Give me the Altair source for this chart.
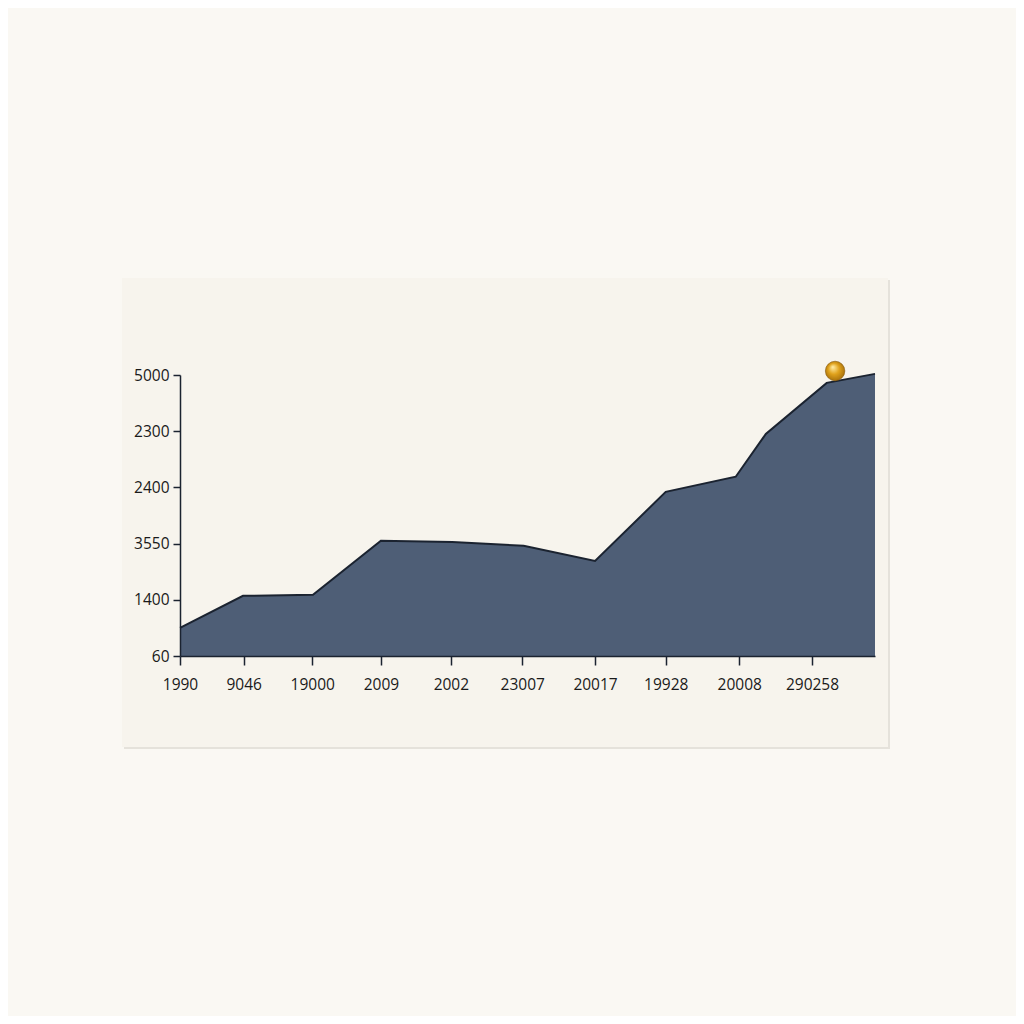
import json
import altair as alt
import pandas as pd

# ---- data ----
x_pos = [0, 90, 190, 287, 389, 491, 593, 694, 794, 837, 924, 993]
y_val = [300, 642, 654, 1230, 1218, 1176, 1014, 1752, 1914, 2370, 2916, 3012]

x_ticks = [0, 91, 189, 287, 387, 489, 593, 694, 799, 903]
x_labels = ["1990", "9046", "19000", "2009", "2002", "23007", "20017", "19928", "20008", "290258"]

y_ticks = [0, 600, 1200, 1800, 2400, 3000]
y_labels = ["60", "1400", "3550", "2400", "2300", "5000"]

ball_x = [936]
ball_y = [3043]

PAGE = "#FAF8F3"
CARD = "#F7F4ED"
AREA = "#4E5E76"
INK = "#1B2330"

area_df = pd.DataFrame({"x": x_pos, "y": y_val})
ball_df = pd.DataFrame({"x": ball_x, "y": ball_y})
one = pd.DataFrame({"k": [0]})

x_scale = alt.Scale(domain=[0, 993], nice=False, zero=False)
y_scale = alt.Scale(domain=[0, 3000], nice=False)

x_label_expr = f"{json.dumps(x_labels)}[indexof({json.dumps(x_ticks)}, datum.value)]"
y_label_expr = f"{json.dumps(y_labels)}[indexof({json.dumps(y_ticks)}, datum.value)]"

shadow = alt.Chart(one).mark_rect(color="#DCD8D0", opacity=0.7).encode(
    x=alt.value(-56), x2=alt.value(710), y=alt.value(-95), y2=alt.value(374)
)
card = alt.Chart(one).mark_rect(color=CARD).encode(
    x=alt.value(-58), x2=alt.value(708), y=alt.value(-97), y2=alt.value(372)
)

x_enc = alt.X("x:Q", scale=x_scale, title=None,
              axis=alt.Axis(values=x_ticks, labelExpr=x_label_expr, tickSize=9,
                            labelPadding=12, labelFlush=False, grid=False, zindex=2))
y_enc = alt.Y("y:Q", scale=y_scale, title=None,
              axis=alt.Axis(values=y_ticks, labelExpr=y_label_expr, tickSize=7,
                            labelPadding=4, labelFlush=False, grid=False, zindex=2))

area = alt.Chart(area_df).mark_area(fill=AREA, opacity=1, fillOpacity=1).encode(
    x=x_enc, y=y_enc
)
line = alt.Chart(area_df).mark_line(color=INK, strokeWidth=2).encode(
    x=alt.X("x:Q", scale=x_scale), y=alt.Y("y:Q", scale=y_scale)
)

ball = alt.Chart(ball_df).mark_point(
    shape="circle", size=380, filled=True, opacity=1,
    fill=alt.Gradient(
        gradient="radial",
        stops=[alt.GradientStop(color="#FFE9A0", offset=0),
               alt.GradientStop(color="#E0A21C", offset=0.45),
               alt.GradientStop(color="#9A6508", offset=1)],
        x1=0.38, y1=0.3, r1=0.02, x2=0.5, y2=0.5, r2=0.6,
    ),
    stroke="#86580A", strokeWidth=0.6,
).encode(x=alt.X("x:Q", scale=x_scale), y=alt.Y("y:Q", scale=y_scale))

chart = alt.layer(shadow, card, area, line, ball).properties(
    width=695, height=281,
    background=PAGE,
    padding={"left": 114, "top": 270, "right": 126, "bottom": 267},
).configure_view(stroke=None).configure_axis(
    domainColor=INK, domainWidth=1.5, tickColor=INK, tickWidth=1.5,
    labelFont="Open Sans", labelFontSize=15.5, labelColor="#1A1A1A",
)

chart.save("out.html", embed_options={"renderer": "svg", "actions": False})
